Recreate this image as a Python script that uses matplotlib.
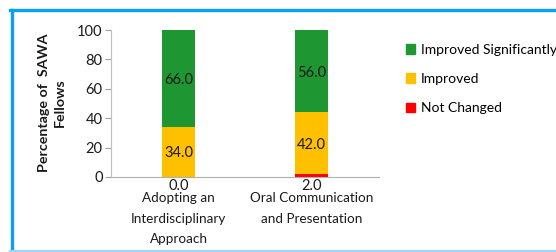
import matplotlib
matplotlib.use("Agg")
import matplotlib.pyplot as plt
from matplotlib.patches import Rectangle
from matplotlib.lines import Line2D

categories = ["Adopting an\nInterdisciplinary\nApproach", "Oral Communication\nand Presentation"]
not_changed = [0.0, 2.0]
improved = [34.0, 42.0]
improved_sig = [66.0, 56.0]
series_names = ["Improved Significantly", "Improved", "Not Changed"]
colors = {"Improved Significantly": "#1E9632", "Improved": "#FFC000", "Not Changed": "#FF0000"}

plt.rcParams['font.family'] = ['Lato', 'DejaVu Sans']

fig = plt.figure(figsize=(5.56, 2.52), dpi=100)
W, H = 556, 252
ax = fig.add_axes([111 / W, 1 - 177 / H, (379 - 111) / W, (177 - 30) / H])

x = list(range(len(categories)))
bw = 0.25
ax.bar(x, not_changed, bw, color=colors["Not Changed"], label="Not Changed")
ax.bar(x, improved, bw, bottom=not_changed, color=colors["Improved"], label="Improved")
bottoms2 = [a + b for a, b in zip(not_changed, improved)]
ax.bar(x, improved_sig, bw, bottom=bottoms2, color=colors["Improved Significantly"], label="Improved Significantly")

fs = 9.7
dfs = 10.5
for i in x:
    ax.text(i, bottoms2[i] + improved_sig[i] / 2 - 1, f"{improved_sig[i]:.1f}", ha="center", va="center", fontsize=dfs, color="#1a1a1a")
    ax.text(i, not_changed[i] + improved[i] / 2 - 1, f"{improved[i]:.1f}", ha="center", va="center", fontsize=dfs, color="#1a1a1a")
    ax.text(i, -1.5, f"{not_changed[i]:.1f}", ha="center", va="top", fontsize=dfs, color="#1a1a1a")

ax.set_xlim(-0.51, 1.51)
ax.set_ylim(0, 100)
ax.set_yticks([0, 20, 40, 60, 80, 100])
ax.set_xticks(x)
ax.set_xticklabels(categories, fontsize=fs, color="#1a1a1a", linespacing=1.85)
ax.tick_params(axis="x", length=0, pad=11)
ax.tick_params(axis="y", labelsize=dfs, length=4, color="#a0a0a0", labelcolor="#1a1a1a", pad=2)
for s in ["top", "right"]:
    ax.spines[s].set_visible(False)
ax.spines["left"].set_color("#c0c0c0")
ax.spines["bottom"].set_color("#b0b0b0")

fig.text(52 / W, 1 - 103 / H, "Percentage of  SAWA\nFellows", rotation=90, ha="center", va="center",
         fontsize=10.3, fontweight="bold", color="#1a1a1a", linespacing=1.45)

# legend
handles = [Rectangle((0, 0), 1, 1, color=colors[n]) for n in series_names]
fig.legend(handles, series_names, loc="upper left", bbox_to_anchor=(400 / W, 1 - 38 / H),
           frameon=False, fontsize=10, handlelength=0.7, handleheight=0.7, handletextpad=0.4,
           labelspacing=1.25, borderaxespad=0)

# border frame
fig.add_artist(Line2D([11.5 / W, 11.5 / W], [1 - 9.5 / H, 0], transform=fig.transFigure, color="#0AA0F5", lw=2.4))
fig.add_artist(Line2D([10 / W, 1], [1 - 9.5 / H, 1 - 9.5 / H], transform=fig.transFigure, color="#0AA0F5", lw=2.4))
fig.add_artist(Line2D([10 / W, 1], [0.8 / H, 0.8 / H], transform=fig.transFigure, color="#9FD4F5", lw=1.5))

fig.savefig("out.png", dpi=100)
